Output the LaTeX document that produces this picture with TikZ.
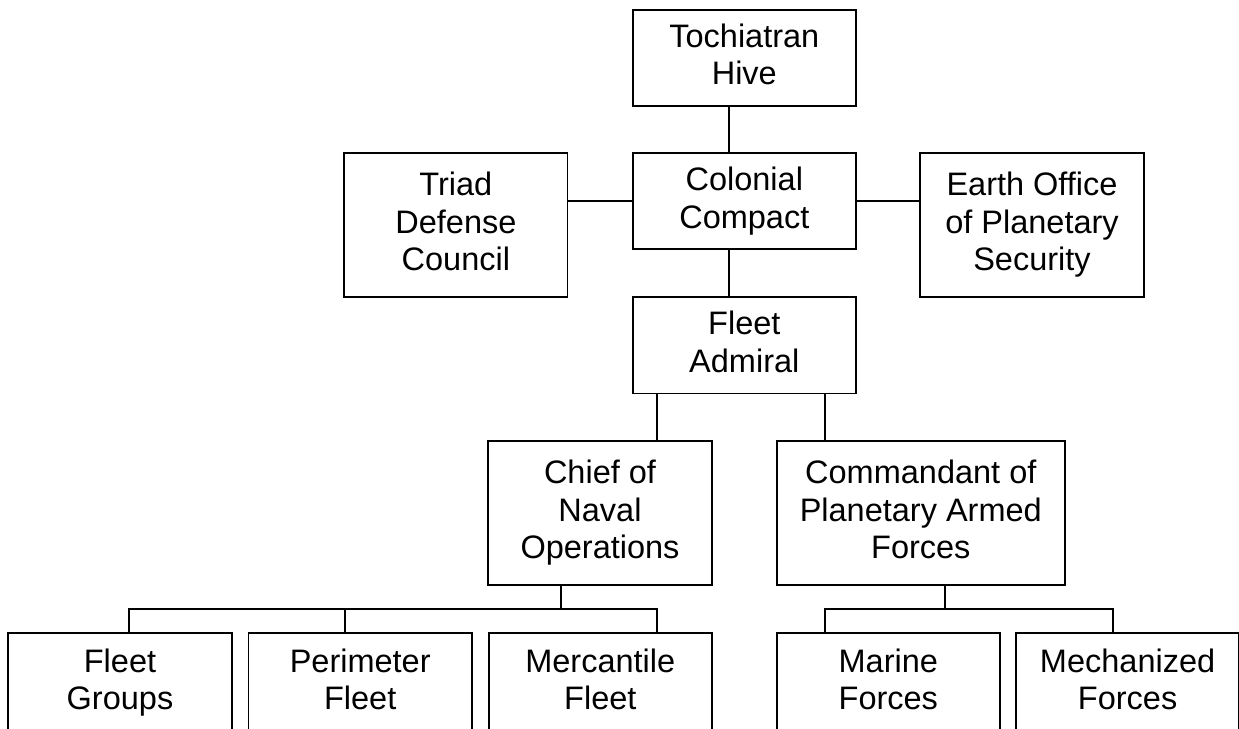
\documentclass[tikz,border=0pt]{standalone}
\usepackage{fontspec}
\setmainfont{Liberation Sans}
\begin{document}
\begin{tikzpicture}[x=1pt,y=-1pt,
  box/.style={draw=black, line width=1.8pt, fill=white, inner sep=0pt,
    minimum width=223.3pt, align=center,
    font=\fontsize{32.5}{37.5}\selectfont,
    execute at begin node=\vphantom{l},
    execute at end node=\vphantom{p}},
  short/.style={box, minimum height=96.2pt},
  tall/.style={box, minimum height=143.8pt},
  link/.style={draw=black, line width=1.8pt}]
\useasboundingbox (0,0) rectangle (1239,728);
\clip (0,0) rectangle (1239,728);

% top levels
\node[short] (toc) at (744.3,57.7) {Tochiatran\\Hive};
\node[short] (col) at (744.3,201.2) {Colonial\\Compact};
\node[tall]  (tri) at (455.9,225) {Triad\\Defense\\Council};
\node[tall]  (eop) at (1032,225) {Earth Office\\of Planetary\\Security};
\node[short] (fa)  at (744.3,345.3) {Fleet\\Admiral};
\node[tall]  (cno) at (600,513) {Chief of\\Naval\\Operations};
\node[tall, minimum width=288.3pt] (cpa) at (920.8,513) {Commandant of\\Planetary Armed\\Forces};

% bottom row (bottom edges fall below the picture)
\node[short, minimum height=100pt] (fg)  at (120,682.7) {Fleet\\Groups};
\node[short, minimum height=100pt] (pf)  at (360.2,682.7) {Perimeter\\Fleet};
\node[short, minimum height=100pt] (mf)  at (600.3,682.7) {Mercantile\\Fleet};
\node[short, minimum height=100pt] (mar) at (888.3,682.7) {Marine\\Forces};
\node[short, minimum height=100pt] (mec) at (1127.6,682.7) {Mechanized\\Forces};

\coordinate (bus) at (0,609.3);

% connectors
\draw[link] ([xshift=-15pt]toc.south) -- ([xshift=-15pt]col.north);
\draw[link] (col.west) -- (col.west -| tri.east);
\draw[link] (col.east) -- (col.east -| eop.west);
\draw[link] ([xshift=-15pt]col.south) -- ([xshift=-15pt]fa.north);
\draw[link] ([xshift=-87.3pt]fa.south) -- ([xshift=-87.3pt]fa.south |- cno.north);
\draw[link] ([xshift=80.7pt]fa.south) -- ([xshift=80.7pt]fa.south |- cpa.north);

% navy branch
\draw[link] ([xshift=-39pt]cno.south) -- ([xshift=-39pt]cno.south |- bus);
\draw[link] ([xshift=9pt]fg.north) |- ([xshift=56.7pt]mf.north |- bus) -- ([xshift=56.7pt]mf.north);
\draw[link] ([xshift=-15.2pt]pf.north) -- ([xshift=-15.2pt]pf.north |- bus);

% armed forces branch
\draw[link] ([xshift=24.2pt]cpa.south) -- ([xshift=24.2pt]cpa.south |- bus);
\draw[link] ([xshift=-63.3pt]mar.north) |- ([xshift=-14.9pt]mec.north |- bus) -- ([xshift=-14.9pt]mec.north);
\end{tikzpicture}
\end{document}
